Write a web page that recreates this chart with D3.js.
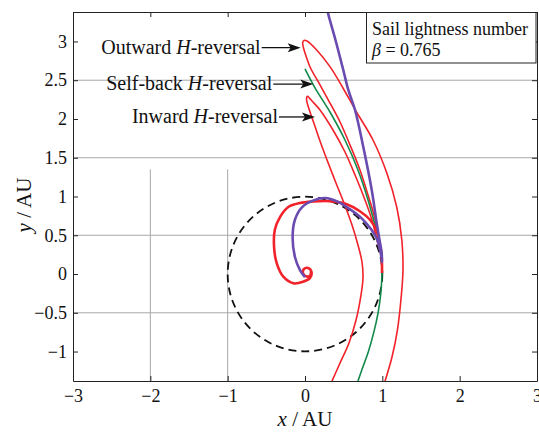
<!DOCTYPE html>
<html>
<head>
<meta charset="utf-8">
<script src="https://cdn.jsdelivr.net/npm/d3@7"></script>
<style>
  body { margin: 0; background: #fff; }
  svg, svg text { font-family: "Liberation Serif", "Times New Roman", Times, "DejaVu Serif", serif; }
</style>
</head>
<body>
<div id="chart"></div>
<script>
const FONT = "'Liberation Serif', 'Times New Roman', Times, 'DejaVu Serif', serif";

// ticks and grid
const xTicks = [-3, -2, -1, 0, 1, 2, 3];
const yTicks = [-1, -0.5, 0, 0.5, 1, 1.5, 2, 2.5, 3];
const hGrid = [-0.5, 0.5, 1.5, 2.5];
const vGrid = [-2, -1];
const vGridTop = 1.35;

// Earth orbit (AU)
const earthOrbitRadius = 1;

// trajectories, [x, y] in AU
const outwardPath = [
  [0.996, 0.116], [0.983, 0.284], [0.944, 0.503], [0.892, 0.761], [0.815, 1.019],
  [0.711, 1.342], [0.582, 1.665], [0.453, 1.961], [0.323, 2.206], [0.194, 2.439],
  [0.065, 2.671], [0.013, 2.813], [-0.019, 2.916], [-0.030, 2.987], [-0.013, 3.013],
  [0.026, 3.006], [0.151, 2.890], [0.323, 2.675], [0.491, 2.400], [0.660, 2.100],
  [0.879, 1.729], [1.058, 1.303], [1.186, 0.865], [1.252, 0.439], [1.267, 0.052],
  [1.246, -0.271], [1.195, -0.723], [1.125, -1.071], [1.035, -1.381]
];
const selfBackPath = [
  [0.0, 2.645], [0.129, 2.400], [0.323, 2.090], [0.517, 1.729], [0.685, 1.342],
  [0.815, 0.955], [0.905, 0.632], [0.970, 0.374], [0.996, 0.155], [0.995, 0.0],
  [0.980, -0.25], [0.945, -0.5], [0.890, -0.75], [0.820, -1.0], [0.730, -1.25],
  [0.685, -1.381]
];
const inwardPath = [
  [0.996, 0.090], [0.983, 0.245], [0.931, 0.439], [0.866, 0.697], [0.776, 0.955],
  [0.647, 1.277], [0.517, 1.574], [0.362, 1.858], [0.194, 2.116], [0.103, 2.219],
  [0.058, 2.270], [0.030, 2.292], [0.020, 2.265], [0.025, 2.220], [0.045, 2.150],
  [0.075, 2.060], [0.110, 1.961], [0.180, 1.755], [0.275, 1.497], [0.385, 1.213],
  [0.504, 0.916], [0.608, 0.632], [0.685, 0.374], [0.737, 0.155], [0.750, -0.052],
  [0.724, -0.271], [0.660, -0.594], [0.569, -0.890], [0.453, -1.148], [0.349, -1.381]
];
const purplePath = [
  [0.0, -0.04], [-0.065, 0.05], [-0.13, 0.22], [-0.16, 0.48], [-0.13, 0.70],
  [-0.04, 0.86], [0.11, 0.95], [0.26, 0.98], [0.43, 0.93], [0.50, 0.89],
  [0.71, 0.74], [0.86, 0.57], [0.935, 0.44], [0.97, 0.31], [0.99, 0.21],
  [0.996, 0.155], [0.990, 0.284], [0.970, 0.400], [0.927, 0.658], [0.863, 1.084],
  [0.754, 1.639], [0.647, 2.116], [0.560, 2.374], [0.495, 2.632], [0.394, 3.019],
  [0.294, 3.381], [0.278, 3.471]
];
const spiralPath = [
  [0.996, 0.013], [0.99, 0.245], [0.957, 0.44], [0.927, 0.555], [0.84, 0.70],
  [0.71, 0.81], [0.54, 0.90], [0.32, 0.94], [0.10, 0.935], [-0.065, 0.916],
  [-0.216, 0.865], [-0.32, 0.74], [-0.39, 0.57], [-0.40, 0.35], [-0.366, 0.14],
  [-0.28, -0.035], [-0.15, -0.12], [-0.026, -0.10], [0.065, -0.05], [0.084, 0.026],
  [0.04, 0.077], [-0.013, 0.065], [-0.026, 0.013], [0.013, -0.03], [0.065, -0.02],
  [0.078, 0.04]
];

// annotation tips, AU
const annotations = [
  { text: "Outward ", h: "H", rest: "-reversal", tip: [-0.056, 2.92], gap: 40 },
  { text: "Self-back ", h: "H", rest: "-reversal", tip: [0.107, 2.45], gap: 41 },
  { text: "Inward ", h: "H", rest: "-reversal", tip: [0.129, 2.026], gap: 37 }
];

const width = 539, height = 437;
const margin = { top: 12, right: 2, bottom: 56, left: 73 };

const x = d3.scaleLinear().domain([-3, 3]).range([margin.left, width - margin.right]);
const y = d3.scaleLinear().domain([-1.38, 3.38]).range([height - margin.bottom, margin.top]);

const svg = d3.select("#chart").append("svg")
  .attr("width", width)
  .attr("height", height)
  .attr("font-family", FONT);

svg.append("defs").append("clipPath").attr("id", "plot")
  .append("rect")
  .attr("x", x(-3)).attr("y", y(3.38))
  .attr("width", x(3) - x(-3)).attr("height", y(-1.38) - y(3.38));

// grid
svg.append("g").selectAll("line.h")
  .data(hGrid)
  .join("line")
  .attr("x1", x(-3)).attr("x2", x(3))
  .attr("y1", d => y(d)).attr("y2", d => y(d))
  .attr("stroke", "#a8a8a8").attr("stroke-width", 1);

svg.append("g").selectAll("line.v")
  .data(vGrid)
  .join("line")
  .attr("x1", d => x(d)).attr("x2", d => x(d))
  .attr("y1", y(vGridTop)).attr("y2", y(-1.38))
  .attr("stroke", "#a8a8a8").attr("stroke-width", 1);

// curves
const line = d3.line()
  .x(d => x(d[0]))
  .y(d => y(d[1]))
  .curve(d3.curveCatmullRom.alpha(0.5));

const plot = svg.append("g").attr("clip-path", "url(#plot)");

plot.append("circle")
  .attr("cx", x(0)).attr("cy", y(0))
  .attr("r", x(earthOrbitRadius) - x(0))
  .attr("fill", "none")
  .attr("stroke", "#111")
  .attr("stroke-width", 1.8)
  .attr("stroke-dasharray", "8,5");

const series = [
  { data: outwardPath, color: "#f2222a", w: 1.6 },
  { data: inwardPath, color: "#f2222a", w: 1.6 },
  { data: selfBackPath, color: "#138a4c", w: 1.6 },
  { data: spiralPath, color: "#f2222a", w: 2.6 },
  { data: purplePath, color: "#6a4cb0", w: 2.6 }
];

plot.selectAll("path.traj")
  .data(series)
  .join("path")
  .attr("class", "traj")
  .attr("d", d => line(d.data))
  .attr("fill", "none")
  .attr("stroke", d => d.color)
  .attr("stroke-width", d => d.w)
  .attr("stroke-linejoin", "round");

// axes
const fmt = d => String(d).replace("-", "\u2212");

svg.append("g")
  .attr("transform", `translate(0,${y(-1.38)})`)
  .call(d3.axisBottom(x).tickValues(xTicks).tickSize(-5).tickSizeOuter(0).tickPadding(8).tickFormat(fmt));
svg.append("g")
  .attr("transform", `translate(0,${y(3.38)})`)
  .call(d3.axisTop(x).tickValues(xTicks).tickSize(-5).tickSizeOuter(0).tickFormat(""));
svg.append("g")
  .attr("transform", `translate(${x(-3)},0)`)
  .call(d3.axisLeft(y).tickValues(yTicks).tickSize(-5).tickSizeOuter(0).tickPadding(6).tickFormat(fmt));
svg.append("g")
  .attr("transform", `translate(${x(3)},0)`)
  .call(d3.axisRight(y).tickValues(yTicks).tickSize(-5).tickSizeOuter(0).tickFormat(""));

svg.selectAll("g[font-family]").attr("font-family", FONT);
svg.selectAll(".domain").attr("stroke", "#222");
svg.selectAll(".tick line").attr("stroke", "#222");
svg.selectAll(".tick text")
  .attr("font-family", FONT)
  .attr("font-size", 18)
  .attr("fill", "#111");

// axis titles
const xt = svg.append("text")
  .attr("x", x(0)).attr("y", 426)
  .attr("text-anchor", "middle")
  .attr("font-size", 21).attr("fill", "#111");
xt.append("tspan").attr("font-style", "italic").text("x");
xt.append("tspan").text(" / AU");

const yt = svg.append("text")
  .attr("transform", `translate(31,${y(0.89)}) rotate(-90)`)
  .attr("text-anchor", "middle")
  .attr("font-size", 21).attr("fill", "#111");
yt.append("tspan").attr("font-style", "italic").text("y");
yt.append("tspan").text(" / AU");

// annotations
const ann = svg.append("g").selectAll("g")
  .data(annotations)
  .join("g");

ann.append("line")
  .attr("x1", d => x(d.tip[0]) - d.gap + 1)
  .attr("x2", d => x(d.tip[0]) - 6)
  .attr("y1", d => y(d.tip[1])).attr("y2", d => y(d.tip[1]))
  .attr("stroke", "#111").attr("stroke-width", 1.3);

ann.append("path")
  .attr("d", d => {
    const tx = x(d.tip[0]), ty = y(d.tip[1]);
    return `M${tx},${ty}L${tx - 13},${ty - 4.5}L${tx - 10},${ty}L${tx - 13},${ty + 4.5}Z`;
  })
  .attr("fill", "#111");

const annText = ann.append("text")
  .attr("x", d => x(d.tip[0]) - d.gap)
  .attr("y", d => y(d.tip[1]) + 6)
  .attr("text-anchor", "end")
  .attr("font-size", 20)
  .attr("fill", "#111");
annText.append("tspan").text(d => d.text);
annText.append("tspan").attr("font-style", "italic").text(d => d.h);
annText.append("tspan").text(d => d.rest);

// legend box
const lg = svg.append("g");
lg.append("rect")
  .attr("x", 366.5).attr("y", 12.5)
  .attr("width", 169.5).attr("height", 50.5)
  .attr("fill", "#fff")
  .attr("stroke", "#222").attr("stroke-width", 1);
lg.append("text")
  .attr("x", 372).attr("y", 35)
  .attr("font-size", 18).attr("fill", "#111")
  .text("Sail lightness number");
const bt = lg.append("text")
  .attr("x", 372).attr("y", 56)
  .attr("font-size", 18).attr("fill", "#111");
bt.append("tspan").attr("font-style", "italic").text("\u03b2");
bt.append("tspan").text(" = 0.765");
</script>
</body>
</html>
